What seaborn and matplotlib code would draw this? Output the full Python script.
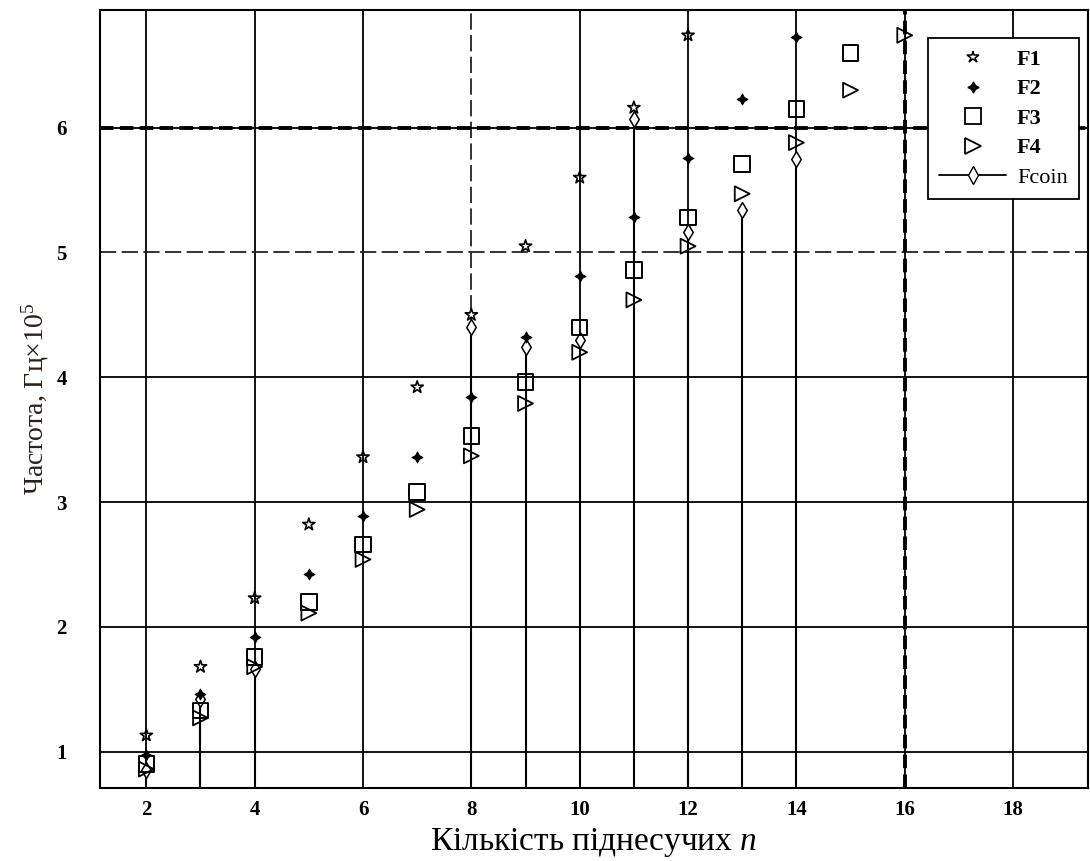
import numpy as np
import pandas as pd
import matplotlib
matplotlib.use("Agg")
import matplotlib.pyplot as plt
import seaborn as sns
from matplotlib.lines import Line2D

# ---- data ----
n_f1 = [2, 3, 4, 5, 6, 7, 8, 9, 10, 11, 12]
f1 = [1.13, 1.68, 2.23, 2.82, 3.36, 3.92, 4.50, 5.05, 5.60, 6.16, 6.74]

n_f2 = [2, 3, 4, 5, 6, 7, 8, 9, 10, 11, 12, 13, 14]
f2 = [0.97, 1.46, 1.92, 2.42, 2.89, 3.36, 3.84, 4.32, 4.81, 5.28, 5.76, 6.23, 6.73]

n_f3 = [2, 3, 4, 5, 6, 7, 8, 9, 10, 11, 12, 13, 14, 15]
f3 = [0.90, 1.33, 1.76, 2.20, 2.66, 3.08, 3.53, 3.96, 4.40, 4.86, 5.28, 5.71, 6.15, 6.60]

n_f4 = [2, 3, 4, 5, 6, 7, 8, 9, 10, 11, 12, 13, 14, 15, 16]
f4 = [0.86, 1.27, 1.68, 2.11, 2.54, 2.94, 3.37, 3.79, 4.20, 4.62, 5.05, 5.47, 5.88, 6.30, 6.74]

n_coin = [2, 3, 4, 8, 9, 10, 11, 12, 13, 14]
fcoin = [0.85, 1.42, 1.66, 4.40, 4.24, 4.30, 6.07, 5.16, 5.34, 5.75]

x_ticks = [2, 4, 6, 8, 10, 12, 14, 16, 18]
y_ticks = [1, 2, 3, 4, 5, 6]
x_label = "Кількість піднесучих $\\mathit{n}$"
y_label = "Частота, Гц×10$^5$"
limit_n = 16
limit_f = 6

sns.set_theme(style="white")
plt.rcParams['font.family'] = ['Liberation Serif', 'DejaVu Serif']
plt.rcParams['mathtext.fontset'] = 'custom'
plt.rcParams['mathtext.rm'] = 'Liberation Serif'
plt.rcParams['mathtext.it'] = 'Liberation Serif:italic'
plt.rcParams['text.color'] = 'black'
plt.rcParams['axes.labelcolor'] = 'black'

fig = plt.figure(figsize=(10.9, 8.61), dpi=100)
ax = fig.add_axes([0.092, 0.085, 0.906, 0.903])

xmin, xmax = 1.15, 19.38
ymin, ymax = 0.71, 6.94
ax.set_xlim(xmin, xmax)
ax.set_ylim(ymin, ymax)

# grid
ax.set_xticks(x_ticks)
ax.set_yticks(y_ticks)
ax.grid(True, color='black', linewidth=1.3, linestyle='-')
ax.set_axisbelow(True)
for gl, t in zip(ax.get_ygridlines(), y_ticks):
    if t == 5:
        gl.set_linestyle((0, (9, 3)))
        gl.set_color('#222222')
for gl, t in zip(ax.get_xgridlines(), x_ticks):
    if t == 8:
        gl.set_linestyle((0, (9, 3)))
        gl.set_color('#222222')

# reference dashed lines
ax.axhline(limit_f, color='black', linewidth=2.8, linestyle=(0, (3.5, 1.6)), zorder=2)
ax.axvline(limit_n, color='black', linewidth=2.8, linestyle=(0, (3.5, 1.6)), zorder=2)

# Fcoin stems
ax.vlines(n_coin, ymin, fcoin, colors='black', linewidth=1.5, zorder=3)

df1 = pd.DataFrame({'n': n_f1, 'F': f1})
df2 = pd.DataFrame({'n': n_f2, 'F': f2})
df3 = pd.DataFrame({'n': n_f3, 'F': f3})
df4 = pd.DataFrame({'n': n_f4, 'F': f4})
dfc = pd.DataFrame({'n': n_coin, 'F': fcoin})

sns.scatterplot(data=dfc, x='n', y='F', ax=ax, marker='d', s=65,
                facecolors='white', edgecolors='black', linewidth=1.1, zorder=4)
sns.scatterplot(data=df4, x='n', y='F', ax=ax, marker='>', s=115,
                facecolors='none', edgecolors='black', linewidth=1.3, zorder=5)
sns.scatterplot(data=df3, x='n', y='F', ax=ax, marker='s', s=125,
                facecolors='none', edgecolors='black', linewidth=1.4, zorder=5)
sns.scatterplot(data=df2, x='n', y='F', ax=ax, marker=(4, 1, 0), s=60,
                color='black', edgecolor='black', linewidth=0.8, zorder=6)
sns.scatterplot(data=df1, x='n', y='F', ax=ax, marker='*', s=85,
                facecolors='none', edgecolors='black', linewidth=1.2, zorder=6)

# ticks and labels
ax.tick_params(axis='x', length=0, pad=9, labelsize=15, colors='black')
ax.tick_params(axis='y', length=0, pad=24, labelsize=15, colors='black')
for lbl in ax.get_xticklabels() + ax.get_yticklabels():
    lbl.set_fontweight('bold')
ax.set_xlabel(x_label, fontsize=24, color='black', labelpad=4)
ax.set_ylabel(y_label, fontsize=20, color='#2a2018', labelpad=4)

for sp in ax.spines.values():
    sp.set_color('black')
    sp.set_linewidth(1.5)

handles = [
    Line2D([], [], linestyle='none', marker='*', markersize=9, markerfacecolor='none',
           markeredgecolor='black', markeredgewidth=1.1),
    Line2D([], [], linestyle='none', marker=(4, 1, 0), markersize=8, color='black'),
    Line2D([], [], linestyle='none', marker='s', markersize=12, markerfacecolor='none',
           markeredgecolor='black', markeredgewidth=1.3),
    Line2D([], [], linestyle='none', marker='>', markersize=12, markerfacecolor='none',
           markeredgecolor='black', markeredgewidth=1.3),
    Line2D([], [], linestyle='-', color='black', linewidth=1.3, marker='d', markersize=9,
           markerfacecolor='white', markeredgecolor='black', markevery=[1]),
]
labels = ['F1', 'F2', 'F3', 'F4', 'Fcoin']
leg = ax.legend(handles, labels, loc='upper right', bbox_to_anchor=(0.991, 0.964),
                borderaxespad=0.0,
                frameon=True, fancybox=False, edgecolor='black', framealpha=1,
                prop={'family': 'Liberation Serif', 'weight': 'bold', 'size': 16},
                handlelength=3.0, handletextpad=0.5, labelspacing=0.40,
                borderpad=0.5)
leg.get_frame().set_linewidth(1.3)
for t in leg.get_texts():
    t.set_color('black')
leg.get_texts()[-1].set_fontweight('normal')

fig.savefig('out.png', dpi=100, facecolor='white')
